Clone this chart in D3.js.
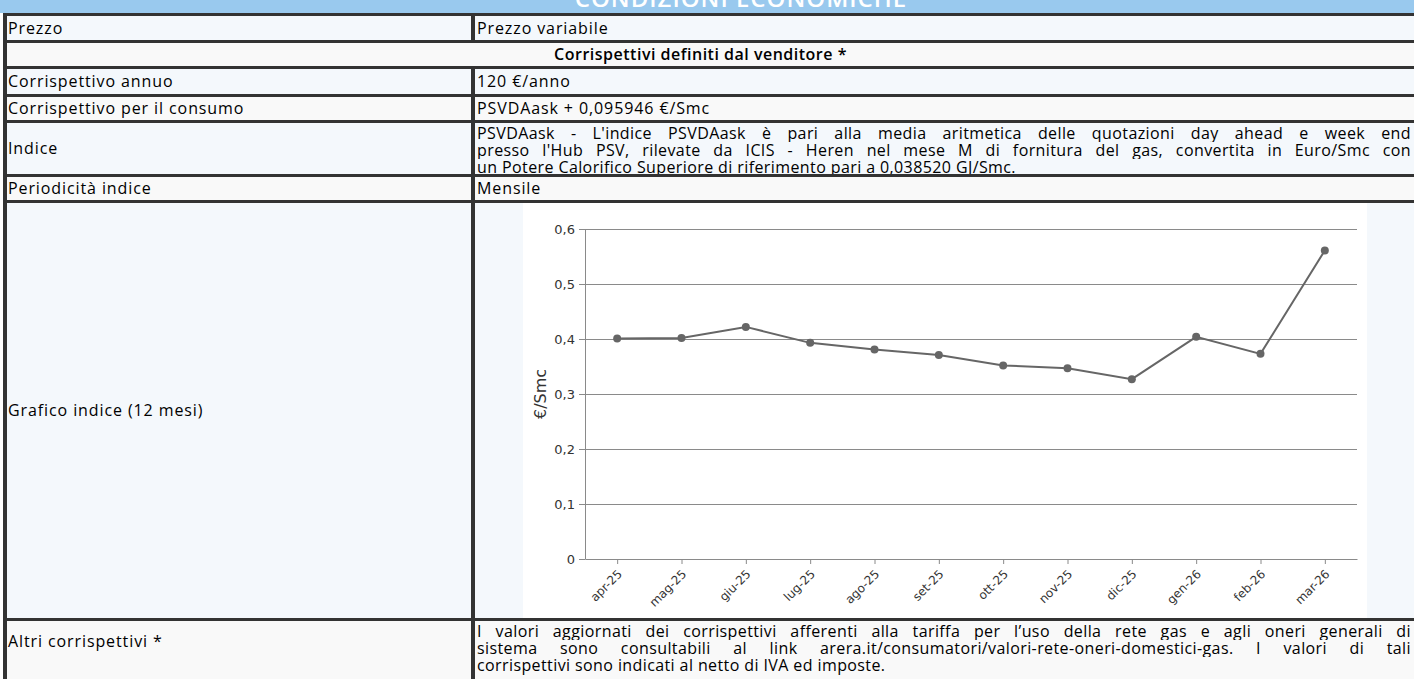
<!DOCTYPE html>
<html>
<head>
<meta charset="utf-8">
<script src="https://cdn.jsdelivr.net/npm/d3@7"></script>
<style>
body { margin: 0; width: 1414px; height: 679px; overflow: hidden; background: #fff; font-family: "Open Sans", sans-serif; }
#page { position: absolute; left: 0; top: 0; width: 1414px; height: 679px; }
.cell { position: absolute; box-sizing: border-box; font-size: 16px; color: #000; overflow: hidden; line-height: 17px; letter-spacing: 0.9px; white-space: nowrap; }
.long { letter-spacing: 0.4px; }
.jline { text-align: justify; text-align-last: justify; white-space: normal; height: 17px; overflow: hidden; }
.rule { position: absolute; background: #333; }
.axis text { font-family: "DejaVu Sans", Verdana, sans-serif; fill: #333; }
</style>
</head>
<body>
<div id="page"></div>
<script>
// table texts
var headerTitle = "CONDIZIONI ECONOMICHE";
var rowLabels = ["Prezzo", "", "Corrispettivo annuo", "Corrispettivo per il consumo", "Indice",
                 "Periodicità indice", "Grafico indice (12 mesi)", "Altri corrispettivi *"];
var rowValues = ["Prezzo variabile", "Corrispettivi definiti dal venditore *", "120 €/anno",
                 "PSVDAask + 0,095946 €/Smc", "", "Mensile", "", ""];
// long texts, split the way the cell wraps them
var indiceLines = ["PSVDAask - L'indice PSVDAask è pari alla media aritmetica delle quotazioni day ahead e week end",
                   "presso l'Hub PSV, rilevate da ICIS - Heren nel mese M di fornitura del gas, convertita in Euro/Smc con",
                   "un Potere Calorifico Superiore di riferimento pari a 0,038520 GJ/Smc."];
var altriLines = ["I valori aggiornati dei corrispettivi afferenti alla tariffa per l’uso della rete gas e agli oneri generali di",
                  "sistema sono consultabili al link arera.it/consumatori/valori-rete-oneri-domestici-gas. I valori di tali",
                  "corrispettivi sono indicati al netto di IVA ed imposte."];

// chart data
var months = ["apr-25", "mag-25", "giu-25", "lug-25", "ago-25", "set-25",
              "ott-25", "nov-25", "dic-25", "gen-26", "feb-26", "mar-26"];
var values = [0.401, 0.402, 0.422, 0.393, 0.381, 0.371, 0.352, 0.347, 0.327, 0.404, 0.373, 0.561];
var yTicks = [0, 0.1, 0.2, 0.3, 0.4, 0.5, 0.6];
var yTitle = "€/Smc";

// layout
var rowTops = [16, 43, 69, 97, 123, 177, 203, 621];
var rowBottoms = [40, 66, 94, 120, 174, 200, 618, 700];
var colSplit = 471, leftEdge = 3, ruleW = 4;
var page = d3.select("#page");

// header band
page.append("div").attr("class", "cell")
    .style("left", "0px").style("top", "0px").style("width", "1414px").style("height", "13px")
    .style("background", "#99c9ee");
page.append("div").attr("class", "cell")
    .style("left", "0px").style("top", "-16px").style("width", "1482px").style("height", "27px")
    .style("text-align", "center").style("color", "#fff").style("font-size", "24px")
    .style("line-height", "27px").style("font-weight", "600").style("letter-spacing", "1px")
    .text(headerTitle);

function addLines(cell, lines, top) {
    cell.classed("long", true).style("padding-top", top + "px");
    lines.forEach(function(t, k) {
        cell.append("div").attr("class", k < lines.length - 1 ? "jline" : "").text(t);
    });
}

rowLabels.forEach(function(lab, i) {
    var top = rowTops[i], h = rowBottoms[i] - rowTops[i];
    var bg = (i % 2 === 0) ? "#f4f8fc" : "#f9f9f9";
    if (i === 1) {
        // full width sub-heading
        page.append("div").attr("class", "cell")
            .style("left", (leftEdge + ruleW) + "px").style("top", top + "px")
            .style("width", (1414 - leftEdge - ruleW) + "px").style("height", h + "px")
            .style("background", bg)
            .style("display", "flex").style("align-items", "center").style("justify-content", "center")
            .style("padding-right", "20px")
            .style("font-weight", "600").style("letter-spacing", "0.5px").text(rowValues[i]);
        return;
    }
    page.append("div").attr("class", "cell")
        .style("left", (leftEdge + ruleW) + "px").style("top", top + "px")
        .style("width", (colSplit - leftEdge - ruleW) + "px").style("height", h + "px")
        .style("background", bg).style("padding-left", "1px")
        .style("display", "flex").style("align-items", i === 7 ? "flex-start" : "center")
        .style("padding-top", i === 7 ? "12px" : "0px")
        .text(lab);
    var vc = page.append("div").attr("class", "cell")
        .style("left", (colSplit + ruleW) + "px").style("top", top + "px")
        .style("width", (1414 - colSplit - ruleW) + "px").style("height", h + "px")
        .style("background", bg).style("padding-left", "2px").style("padding-right", "3px");
    if (i === 4) {
        addLines(vc, indiceLines, 2);
    } else if (i === 7) {
        addLines(vc, altriLines, 2);
    } else if (i !== 6) {
        vc.style("display", "flex").style("align-items", "center").text(rowValues[i]);
    }
});

// grid rules
var hRules = [13].concat(rowBottoms.slice(0, 7));
hRules.forEach(function(y) {
    page.append("div").attr("class", "rule")
        .style("left", leftEdge + "px").style("top", y + "px")
        .style("width", (1414 - leftEdge) + "px").style("height", "3px");
});
page.append("div").attr("class", "rule")
    .style("left", leftEdge + "px").style("top", "13px").style("width", ruleW + "px").style("height", "680px");
rowTops.forEach(function(t, i) {
    if (i === 1) return;
    page.append("div").attr("class", "rule")
        .style("left", colSplit + "px").style("top", (t - 1) + "px")
        .style("width", ruleW + "px").style("height", (rowBottoms[i] - t + 2) + "px");
});

// chart
var chartBox = {x: 523, y: 203, w: 844, h: 415};
var margin = {t: 26, r: 10, b: 59, l: 62};
var width = chartBox.w - margin.l - margin.r,
    height = chartBox.h - margin.t - margin.b;

var svg = page.append("svg")
    .style("position", "absolute").style("left", chartBox.x + "px").style("top", chartBox.y + "px")
    .attr("width", chartBox.w).attr("height", chartBox.h);
svg.append("rect").attr("width", chartBox.w).attr("height", chartBox.h).attr("fill", "#fff");

var plot = svg.append("g").attr("transform", "translate(" + margin.l + "," + margin.t + ")");

var scaleX = d3.scalePoint().domain(months).range([0, width]).padding(0.5);
var scaleY = d3.scaleLinear().domain([0, 0.6]).range([height, 0]);
var fmt = function(d) { return d === 0 ? "0" : d3.format(".1f")(d).replace(".", ","); };

// gridlines
plot.append("g").selectAll("line").data(yTicks.filter(function(d) { return d > 0; })).enter()
    .append("line")
    .attr("x1", 0).attr("x2", width)
    .attr("y1", function(d) { return Math.round(scaleY(d)) + 0.5; })
    .attr("y2", function(d) { return Math.round(scaleY(d)) + 0.5; })
    .attr("stroke", "#8a8a8a").attr("stroke-width", 1);

var axisY = d3.axisLeft(scaleY).tickValues(yTicks).tickFormat(fmt).tickSize(6).tickPadding(4);
var gy = plot.append("g").attr("class", "axis").call(axisY);
gy.select(".domain").attr("stroke", "#8a8a8a").attr("d", "M0.5," + (height + 0.5) + "V0.5");
gy.selectAll(".tick line").attr("stroke", "#8a8a8a");
gy.selectAll("text").style("font-size", "13px");

var axisX = d3.axisBottom(scaleX).tickSize(5).tickSizeOuter(0);
var gx = plot.append("g").attr("class", "axis").attr("transform", "translate(0," + height + ")").call(axisX);
gx.select(".domain").attr("stroke", "#8a8a8a");
gx.selectAll(".tick line").attr("stroke", "#8a8a8a");
gx.selectAll("text")
    .style("font-size", "12px")
    .style("text-anchor", "end")
    .attr("x", 0).attr("y", 0).attr("dx", "-0.1em").attr("dy", "0.35em")
    .attr("transform", "translate(3,12) rotate(-45)");

svg.append("text")
    .attr("transform", "translate(17," + (margin.t + height / 2) + ") rotate(-90)")
    .attr("text-anchor", "middle").attr("dy", "0.35em")
    .style("font-family", "\"DejaVu Sans\", Verdana, sans-serif").style("font-size", "16px").attr("fill", "#333")
    .text(yTitle);

var line = d3.line()
    .x(function(d, i) { return scaleX(months[i]); })
    .y(function(d) { return scaleY(d); });
plot.append("path").datum(values)
    .attr("d", line).attr("fill", "none").attr("stroke", "#666").attr("stroke-width", 2);
plot.append("g").selectAll("circle").data(values).enter()
    .append("circle")
    .attr("cx", function(d, i) { return scaleX(months[i]); })
    .attr("cy", function(d) { return scaleY(d); })
    .attr("r", 4).attr("fill", "#666");
</script>
</body>
</html>
